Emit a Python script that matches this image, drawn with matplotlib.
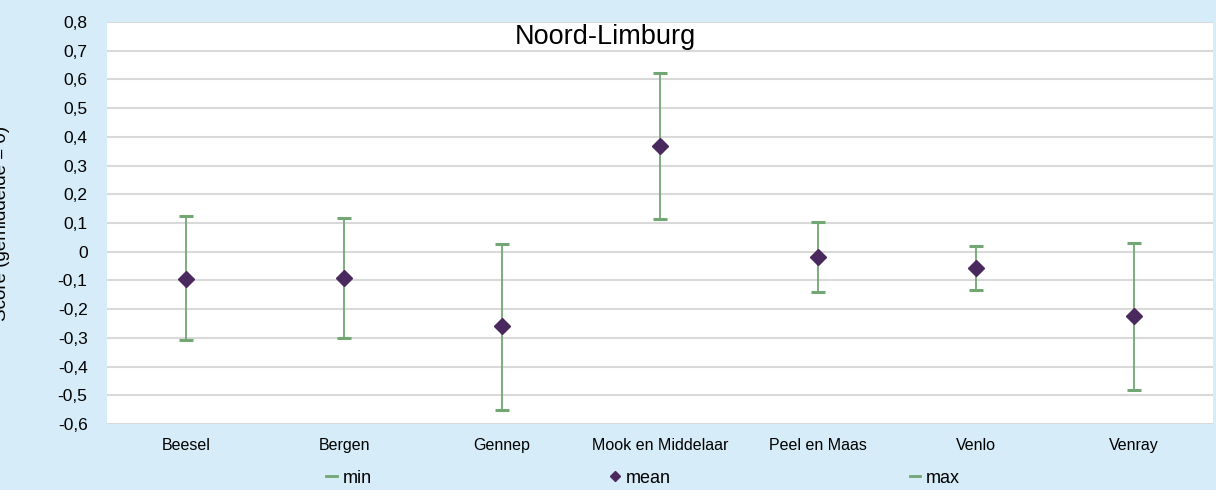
import matplotlib.pyplot as plt
from matplotlib.lines import Line2D

plt.rcParams['font.family'] = ['Liberation Sans', 'DejaVu Sans']

gemeenten = ['Beesel', 'Bergen', 'Gennep', 'Mook en Middelaar', 'Peel en Maas', 'Venlo', 'Venray']
mean_vals = [-0.095, -0.090, -0.260, 0.368, -0.017, -0.055, -0.225]
min_vals = [-0.309, -0.299, -0.552, 0.115, -0.140, -0.132, -0.481]
max_vals = [0.125, 0.117, 0.027, 0.624, 0.104, 0.021, 0.030]
y_ticks = [-0.6, -0.5, -0.4, -0.3, -0.2, -0.1, 0, 0.1, 0.2, 0.3, 0.4, 0.5, 0.6, 0.7, 0.8]

bg = '#d6ecf8'
green = '#72a672'
purple = '#4a2a5e'

fig = plt.figure(figsize=(12.16, 4.9), dpi=100, facecolor=bg)
ax = fig.add_axes([107/1216, 1 - 424/490, (1213-107)/1216, (424-22)/490])
ax.set_facecolor('white')

x = list(range(len(gemeenten)))
low = [m - lo for m, lo in zip(mean_vals, min_vals)]
high = [hi - m for m, hi in zip(mean_vals, max_vals)]
ax.errorbar(x, mean_vals, yerr=[low, high], fmt='none', ecolor=green,
            elinewidth=1.3, capsize=5, capthick=2.2, zorder=3)
ax.plot(x, mean_vals, linestyle='none', marker='D', markersize=8,
        color=purple, zorder=4)

ax.set_xlim(-0.5, len(gemeenten) - 0.5)
ax.set_ylim(-0.6, 0.8)
ax.set_yticks(y_ticks)
ax.set_yticklabels([('%g' % v).replace('.', ',') for v in y_ticks])
ax.set_xticks(x)
ax.set_xticklabels(gemeenten)
ax.grid(axis='y', color='#d9d9d9', linewidth=1.5)
ax.set_axisbelow(True)
for s in ax.spines.values():
    s.set_visible(False)
ax.tick_params(axis='both', length=0)
ax.tick_params(axis='x', pad=10, labelsize=11.5)
ax.tick_params(axis='y', pad=14, labelsize=12.5)

fig.text(2/1216, 1 - 223/490, 'Score (gemiddelde = 0)', rotation=90,
         ha='center', va='center', fontsize=13.5)
ax.text(0.451, 0.962, 'Noord-Limburg', transform=ax.transAxes,
        ha='center', va='center', fontsize=19.5)

handles = [Line2D([], [], color=green, linewidth=2),
           Line2D([], [], color=purple, linestyle='none', marker='D', markersize=5),
           Line2D([], [], color=green, linewidth=2)]
fig.legend(handles, ['min', 'mean', 'max'], loc='center', ncol=3,
           bbox_to_anchor=(643/1216, 1 - 478/490), frameon=False,
           fontsize=13, handlelength=0.6, handletextpad=0.3, columnspacing=13.2)

fig.savefig('out.png', dpi=100, facecolor=bg)
